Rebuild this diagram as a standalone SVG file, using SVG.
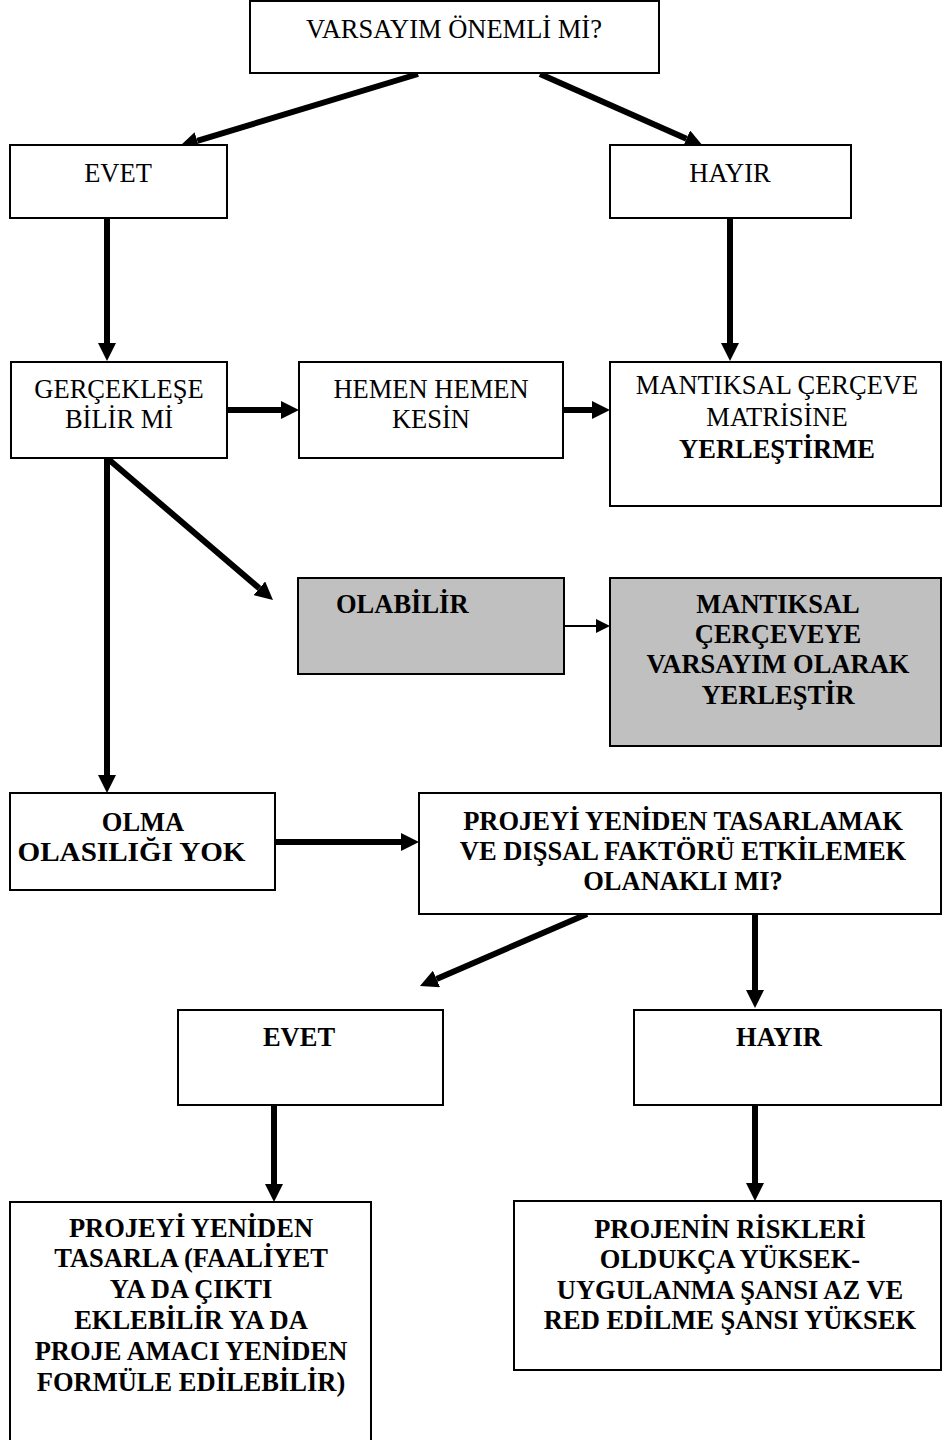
<svg xmlns="http://www.w3.org/2000/svg" width="943" height="1440" viewBox="0 0 943 1440">
  <style>
    .box { fill: #ffffff; stroke: #000000; stroke-width: 2; }
    .grey { fill: #c0c0c0; stroke: #000000; stroke-width: 2; }
    .t { font-family: "Liberation Serif", "Times New Roman", serif; font-size: 26.5px; fill: #000000; text-anchor: middle; }
    .b { font-weight: bold; }
    .thick { stroke: #000000; stroke-width: 6; fill: none; marker-end: url(#head); }
    .thin { stroke: #000000; stroke-width: 2; fill: none; marker-end: url(#headSmall); }
  </style>
  <defs>
    <marker id="head" markerUnits="userSpaceOnUse" markerWidth="18" markerHeight="18" refX="0" refY="9" orient="auto">
      <path d="M0,0 L18,9 L0,18 z" fill="#000000"/>
    </marker>
    <marker id="headSmall" markerUnits="userSpaceOnUse" markerWidth="14" markerHeight="14" refX="0" refY="7" orient="auto">
      <path d="M0,0 L14,7 L0,14 z" fill="#000000"/>
    </marker>
  </defs>
  <rect width="943" height="1440" fill="#ffffff"/>

  <g id="connectors">
    <line class="thick" x1="418" y1="74" x2="197.2" y2="140.8"/>
    <line class="thick" x1="540" y1="74" x2="686.5" y2="138.7"/>
    <line class="thick" x1="107" y1="218" x2="107" y2="343"/>
    <line class="thick" x1="730" y1="218" x2="730" y2="343"/>
    <line class="thick" x1="227" y1="410" x2="281" y2="410"/>
    <line class="thick" x1="563" y1="410" x2="592" y2="410"/>
    <line class="thick" x1="107" y1="458" x2="259.3" y2="588.3"/>
    <line class="thick" x1="107" y1="458" x2="107" y2="775"/>
    <line class="thin" x1="564" y1="626" x2="596" y2="626"/>
    <line class="thick" x1="275" y1="842" x2="401" y2="842"/>
    <line class="thick" x1="587" y1="914" x2="436.5" y2="978.9"/>
    <line class="thick" x1="755" y1="914" x2="755" y2="990"/>
    <line class="thick" x1="274" y1="1105" x2="274" y2="1184"/>
    <line class="thick" x1="755" y1="1105" x2="755" y2="1183"/>
  </g>

  <g id="onemli">
    <rect class="box" x="250" y="1" width="409" height="72"/>
    <text class="t" x="454" y="38">VARSAYIM ÖNEMLİ Mİ?</text>
  </g>
  <g id="evet1">
    <rect class="box" x="10" y="145" width="217" height="73"/>
    <text class="t" x="118" y="182">EVET</text>
  </g>
  <g id="hayir1">
    <rect class="box" x="610" y="145" width="241" height="73"/>
    <text class="t" x="730" y="182">HAYIR</text>
  </g>
  <g id="gerceklese">
    <rect class="box" x="11" y="362" width="216" height="96"/>
    <text class="t" x="119" y="398">GERÇEKLEŞE</text>
    <text class="t" x="119" y="428">BİLİR Mİ</text>
  </g>
  <g id="hemen">
    <rect class="box" x="299" y="362" width="264" height="96"/>
    <text class="t" x="431" y="398">HEMEN HEMEN</text>
    <text class="t" x="431" y="428">KESİN</text>
  </g>
  <g id="matris">
    <rect class="box" x="610" y="362" width="331" height="144"/>
    <text class="t" x="777" y="394">MANTIKSAL ÇERÇEVE</text>
    <text class="t" x="777" y="426">MATRİSİNE</text>
    <text class="t b" x="777" y="458">YERLEŞTİRME</text>
  </g>
  <g id="olabilir">
    <rect class="grey" x="298" y="578" width="266" height="96"/>
    <text class="t b" x="336" y="613" style="text-anchor:start">OLABİLİR</text>
  </g>
  <g id="varsayim-olarak">
    <rect class="grey" x="610" y="578" width="331" height="168"/>
    <text class="t b" x="778" y="613">MANTIKSAL</text>
    <text class="t b" x="778" y="643">ÇERÇEVEYE</text>
    <text class="t b" x="778" y="673">VARSAYIM OLARAK</text>
    <text class="t b" x="778" y="704">YERLEŞTİR</text>
  </g>
  <g id="olma">
    <rect class="box" x="10" y="793" width="265" height="97"/>
    <text class="t b" x="143" y="831">OLMA</text>
    <text class="t b" x="131.5" y="861" textLength="228" lengthAdjust="spacingAndGlyphs">OLASILIĞI YOK</text>
  </g>
  <g id="yeniden-tasarim">
    <rect class="box" x="419" y="793" width="522" height="121"/>
    <text class="t b" x="683" y="830">PROJEYİ YENİDEN TASARLAMAK</text>
    <text class="t b" x="683" y="860">VE DIŞSAL FAKTÖRÜ ETKİLEMEK</text>
    <text class="t b" x="683" y="890">OLANAKLI MI?</text>
  </g>
  <g id="evet2">
    <rect class="box" x="178" y="1010" width="265" height="95"/>
    <text class="t b" x="299" y="1046">EVET</text>
  </g>
  <g id="hayir2">
    <rect class="box" x="634" y="1010" width="307" height="95"/>
    <text class="t b" x="779" y="1046">HAYIR</text>
  </g>
  <g id="tasarla">
    <rect class="box" x="10" y="1202" width="361" height="250"/>
    <text class="t b" x="191" y="1237">PROJEYİ YENİDEN</text>
    <text class="t b" x="191" y="1267">TASARLA (FAALİYET</text>
    <text class="t b" x="191" y="1298">YA DA ÇIKTI</text>
    <text class="t b" x="191" y="1329">EKLEBİLİR YA DA</text>
    <text class="t b" x="191" y="1360">PROJE AMACI YENİDEN</text>
    <text class="t b" x="191" y="1391">FORMÜLE EDİLEBİLİR)</text>
  </g>
  <g id="riskler">
    <rect class="box" x="514" y="1201" width="427" height="169"/>
    <text class="t b" x="730" y="1238">PROJENİN RİSKLERİ</text>
    <text class="t b" x="730" y="1268">OLDUKÇA YÜKSEK-</text>
    <text class="t b" x="730" y="1299">UYGULANMA ŞANSI AZ VE</text>
    <text class="t b" x="730" y="1329">RED EDİLME ŞANSI YÜKSEK</text>
  </g>
</svg>
